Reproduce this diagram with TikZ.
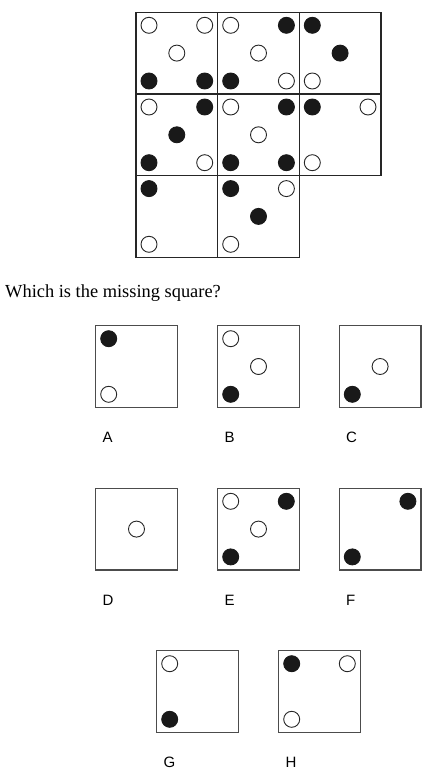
\documentclass[tikz,border=0pt]{standalone}
\usepackage{fontspec}
\setmainfont{Liberation Serif}
\newfontfamily\letterfont{Liberation Sans}

\begin{document}
\begin{tikzpicture}
    [x=1pt,y=-1pt,
    GridBox/.style={line width=1.3pt,draw=black!85},
    OptionBox/.style={line width=1.2pt,draw=black!70},
    OpenDot/.style={line width=0.9pt,draw=black!85,fill=white},
    FullDot/.style={line width=0.9pt,draw=black!90,fill=black!90},
    OptionLabel/.style={anchor=base west,inner sep=0pt,font=\letterfont\fontsize{15}{17}\selectfont},
    ]
    \useasboundingbox (0,0) rectangle (435,778);

    %grid
    \coordinate (CellAA) at (136,12.3);
    \coordinate (CellAB) at (217.7,12.3);
    \coordinate (CellAC) at (299.3,12.3);
    \coordinate (CellBA) at (136,94);
    \coordinate (CellBB) at (217.7,94);
    \coordinate (CellBC) at (299.3,94);
    \coordinate (CellCA) at (136,175.6);
    \coordinate (CellCB) at (217.7,175.6);
    \draw[GridBox] (CellAA) rectangle +(81.7,81.7);
    \draw[GridBox] (CellAB) rectangle +(81.7,81.7);
    \draw[GridBox] (CellAC) rectangle +(81.7,81.7);
    \draw[GridBox] (CellBA) rectangle +(81.7,81.7);
    \draw[GridBox] (CellBB) rectangle +(81.7,81.7);
    \draw[GridBox] (CellBC) rectangle +(81.7,81.7);
    \draw[GridBox] (CellCA) rectangle +(81.7,81.7);
    \draw[GridBox] (CellCB) rectangle +(81.7,81.7);

    %dots, row 1
    \draw[OpenDot] (CellAA) ++(13,13) circle (8pt);
    \draw[OpenDot] (CellAA) ++(68.7,13) circle (8pt);
    \draw[OpenDot] (CellAA) ++(40.8,40.8) circle (8pt);
    \draw[FullDot] (CellAA) ++(13,68.7) circle (8pt);
    \draw[FullDot] (CellAA) ++(68.7,68.7) circle (8pt);
    \draw[OpenDot] (CellAB) ++(13,13) circle (8pt);
    \draw[FullDot] (CellAB) ++(68.7,13) circle (8pt);
    \draw[OpenDot] (CellAB) ++(40.8,40.8) circle (8pt);
    \draw[FullDot] (CellAB) ++(13,68.7) circle (8pt);
    \draw[OpenDot] (CellAB) ++(68.7,68.7) circle (8pt);
    \draw[FullDot] (CellAC) ++(13,13) circle (8pt);
    \draw[FullDot] (CellAC) ++(40.8,40.8) circle (8pt);
    \draw[OpenDot] (CellAC) ++(13,68.7) circle (8pt);

    %dots, row 2
    \draw[OpenDot] (CellBA) ++(13,13) circle (8pt);
    \draw[FullDot] (CellBA) ++(68.7,13) circle (8pt);
    \draw[FullDot] (CellBA) ++(40.8,40.8) circle (8pt);
    \draw[FullDot] (CellBA) ++(13,68.7) circle (8pt);
    \draw[OpenDot] (CellBA) ++(68.7,68.7) circle (8pt);
    \draw[OpenDot] (CellBB) ++(13,13) circle (8pt);
    \draw[FullDot] (CellBB) ++(68.7,13) circle (8pt);
    \draw[OpenDot] (CellBB) ++(40.8,40.8) circle (8pt);
    \draw[FullDot] (CellBB) ++(13,68.7) circle (8pt);
    \draw[FullDot] (CellBB) ++(68.7,68.7) circle (8pt);
    \draw[FullDot] (CellBC) ++(13,13) circle (8pt);
    \draw[OpenDot] (CellBC) ++(68.7,13) circle (8pt);
    \draw[OpenDot] (CellBC) ++(13,68.7) circle (8pt);

    %dots, row 3
    \draw[FullDot] (CellCA) ++(13,13) circle (8pt);
    \draw[OpenDot] (CellCA) ++(13,68.7) circle (8pt);
    \draw[FullDot] (CellCB) ++(13,13) circle (8pt);
    \draw[OpenDot] (CellCB) ++(68.7,13) circle (8pt);
    \draw[FullDot] (CellCB) ++(40.8,40.8) circle (8pt);
    \draw[OpenDot] (CellCB) ++(13,68.7) circle (8pt);

    %question
    \node[anchor=base west,inner sep=0pt,font=\fontsize{18.4}{22}\selectfont] (Question) at (5,297) {Which is the missing square?};

    %options
    \coordinate (OptA) at (95.7,325.7);
    \coordinate (OptB) at (217.7,325.7);
    \coordinate (OptC) at (339.3,325.7);
    \coordinate (OptD) at (95.7,488.3);
    \coordinate (OptE) at (217.7,488.3);
    \coordinate (OptF) at (339.3,488.3);
    \coordinate (OptG) at (156.7,650.7);
    \coordinate (OptH) at (278.7,650.7);
    \draw[OptionBox] (OptA) rectangle +(81.6,81.6);
    \draw[OptionBox] (OptB) rectangle +(81.6,81.6);
    \draw[OptionBox] (OptC) rectangle +(81.6,81.6);
    \draw[OptionBox] (OptD) rectangle +(81.6,81.6);
    \draw[OptionBox] (OptE) rectangle +(81.6,81.6);
    \draw[OptionBox] (OptF) rectangle +(81.6,81.6);
    \draw[OptionBox] (OptG) rectangle +(81.6,81.6);
    \draw[OptionBox] (OptH) rectangle +(81.6,81.6);

    \draw[FullDot] (OptA) ++(13,13) circle (8pt);
    \draw[OpenDot] (OptA) ++(13,68.6) circle (8pt);
    \draw[OpenDot] (OptB) ++(13,13) circle (8pt);
    \draw[OpenDot] (OptB) ++(40.8,40.8) circle (8pt);
    \draw[FullDot] (OptB) ++(13,68.6) circle (8pt);
    \draw[OpenDot] (OptC) ++(40.8,40.8) circle (8pt);
    \draw[FullDot] (OptC) ++(13,68.6) circle (8pt);
    \draw[OpenDot] (OptD) ++(40.8,40.8) circle (8pt);
    \draw[OpenDot] (OptE) ++(13,13) circle (8pt);
    \draw[FullDot] (OptE) ++(68.6,13) circle (8pt);
    \draw[OpenDot] (OptE) ++(40.8,40.8) circle (8pt);
    \draw[FullDot] (OptE) ++(13,68.6) circle (8pt);
    \draw[FullDot] (OptF) ++(68.6,13) circle (8pt);
    \draw[FullDot] (OptF) ++(13,68.6) circle (8pt);
    \draw[OpenDot] (OptG) ++(13,13) circle (8pt);
    \draw[FullDot] (OptG) ++(13,68.6) circle (8pt);
    \draw[FullDot] (OptH) ++(13,13) circle (8pt);
    \draw[OpenDot] (OptH) ++(68.6,13) circle (8pt);
    \draw[OpenDot] (OptH) ++(13,68.6) circle (8pt);

    %letters
    \path (OptA) ++(6.6,117) node[OptionLabel] (LabelA) {A};
    \path (OptB) ++(6.6,117) node[OptionLabel] (LabelB) {B};
    \path (OptC) ++(6.6,117) node[OptionLabel] (LabelC) {C};
    \path (OptD) ++(6.6,117) node[OptionLabel] (LabelD) {D};
    \path (OptE) ++(6.6,117) node[OptionLabel] (LabelE) {E};
    \path (OptF) ++(6.6,117) node[OptionLabel] (LabelF) {F};
    \path (OptG) ++(6.6,117) node[OptionLabel] (LabelG) {G};
    \path (OptH) ++(6.6,117) node[OptionLabel] (LabelH) {H};

\end{tikzpicture}
\end{document}
